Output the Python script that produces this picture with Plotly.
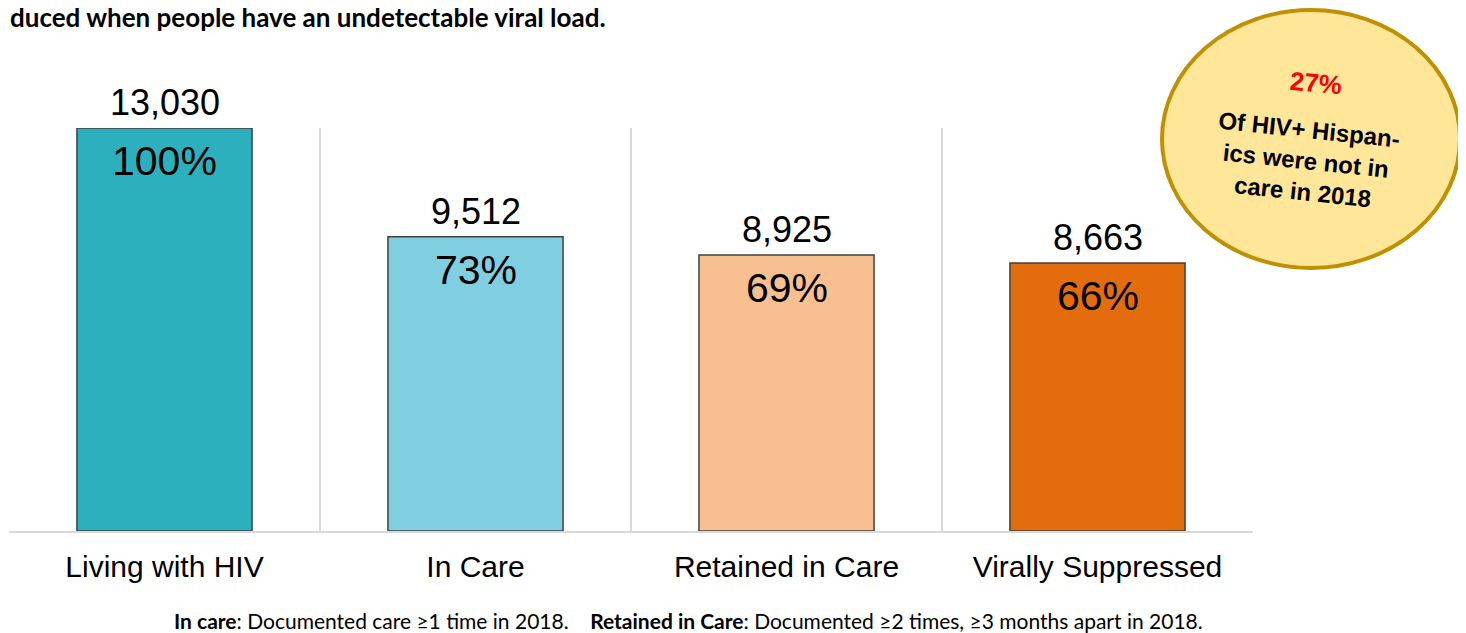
import plotly.graph_objects as go

categories = ["Living with HIV", "In Care", "Retained in Care", "Virally Suppressed"]
counts = [13030, 9512, 8925, 8663]
percents = ["100%", "73%", "69%", "66%"]
bar_colors = ["#2DB0BE", "#7FCFE1", "#F8C091", "#E36C0C"]

title_text = "duced when people have an undetectable viral load."
footnote_text = ("<b>In care</b>: Documented care \u22651 time in 2018.&nbsp;&nbsp;&nbsp; "
                 "<b>Retained in Care</b>: Documented \u22652 times, \u22653 months apart in 2018.")
callout_pct = "27%"
callout_text = "Of HIV+ Hispan-<br>ics were not in<br>care in 2018"

# page has an 8px body margin; size the figure so it fits the 1466x633 window
OFF = 8
W, H = 1466 - OFF, 633 - OFF
L, T = 9 - OFF, 128 - OFF
R = W - (1253 - OFF)
B = H - (531 - OFF)
pw, ph = W - L - R, H - T - B

def px(x):  # page pixel x -> paper
    return (x - OFF - L) / pw

def py(y):  # page pixel y -> paper
    return (H - B - (y - OFF)) / ph

fig = go.Figure()
fig.add_trace(go.Bar(
    x=categories, y=counts,
    marker=dict(color=bar_colors, line=dict(color="#404040", width=1.5)),
    width=0.563, hoverinfo="skip",
))

annotations = []
for c, v, p in zip(categories, counts, percents):
    annotations.append(dict(x=c, y=v, xref="x", yref="y", text=f"{v:,}", showarrow=False,
                            yanchor="bottom", yshift=3,
                            font=dict(family="Liberation Sans", size=36, color="#000000")))
    annotations.append(dict(x=c, y=v, xref="x", yref="y", text=p, showarrow=False,
                            yanchor="top", yshift=-8,
                            font=dict(family="Liberation Sans", size=41, color="#000000")))

annotations.append(dict(x=px(OFF), y=py(17), xref="paper", yref="paper", text=f"<b>{title_text}</b>",
                        showarrow=False, xanchor="left", yanchor="middle",
                        font=dict(family="Lato", size=26, color="#000000")))
annotations.append(dict(x=px(688), y=py(620), xref="paper", yref="paper", text=footnote_text,
                        showarrow=False, xanchor="center", yanchor="middle",
                        font=dict(family="Lato", size=21, color="#000000")))
annotations.append(dict(x=px(1316), y=py(83), xref="paper", yref="paper", text=f"<b>{callout_pct}</b>",
                        showarrow=False, xanchor="center", yanchor="middle", textangle=5,
                        font=dict(family="Liberation Sans", size=26, color="#FF0000")))
annotations.append(dict(x=px(1306), y=py(160), xref="paper", yref="paper", text=f"<b>{callout_text}</b>",
                        showarrow=False, xanchor="center", yanchor="middle", textangle=6,
                        font=dict(family="Liberation Sans", size=24, color="#000000")))

shapes = [dict(type="circle", xref="paper", yref="paper",
               x0=px(1162), x1=px(1460), y0=py(268), y1=py(10),
               fillcolor="#FFE699", line=dict(color="#BF9000", width=4), layer="above")]

fig.update_layout(
    width=W, height=H,
    margin=dict(l=L, r=R, t=T, b=B, autoexpand=False),
    paper_bgcolor="white", plot_bgcolor="white",
    showlegend=False,
    annotations=annotations,
    shapes=shapes,
    xaxis=dict(type="category", tickson="boundaries", showgrid=True, gridcolor="#D9D9D9", gridwidth=1.5,
               showline=True, linecolor="#D9D9D9", linewidth=2, ticks="", ticklabelstandoff=8,
               tickfont=dict(family="Liberation Sans", size=30, color="#000000"),
               range=[-0.5, 3.5], fixedrange=True),
    yaxis=dict(range=[0, 13030], showgrid=False, showticklabels=False, zeroline=False,
               showline=False, fixedrange=True),
)

fig.write_html("out.html")
